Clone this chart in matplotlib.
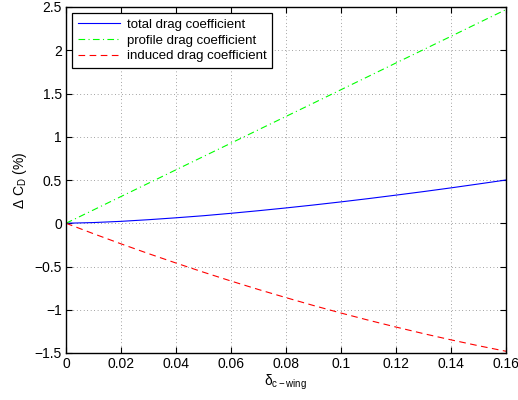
import matplotlib
matplotlib.use("Agg")
import matplotlib.pyplot as plt

# delta c-wing sample points
delta = [0.00, 0.01, 0.02, 0.03, 0.04, 0.05, 0.06, 0.07, 0.08,
         0.09, 0.10, 0.11, 0.12, 0.13, 0.14, 0.15, 0.16]
# Delta C_D (%)
total_cd   = [0.000, 0.008, 0.022, 0.041, 0.063, 0.087, 0.115, 0.145, 0.177,
              0.211, 0.247, 0.285, 0.325, 0.366, 0.409, 0.454, 0.500]
profile_cd = [0.000, 0.154, 0.309, 0.463, 0.618, 0.772, 0.926, 1.081, 1.235,
              1.389, 1.544, 1.698, 1.853, 2.007, 2.161, 2.316, 2.470]
induced_cd = [0.000, -0.121, -0.238, -0.351, -0.460, -0.566, -0.668, -0.766, -0.860,
              -0.951, -1.038, -1.121, -1.200, -1.276, -1.348, -1.416, -1.480]

xticks = [0, 0.02, 0.04, 0.06, 0.08, 0.1, 0.12, 0.14, 0.16]
yticks = [-1.5, -1, -0.5, 0, 0.5, 1, 1.5, 2, 2.5]

plt.rcParams["font.family"] = ["Liberation Sans", "DejaVu Sans"]
plt.rcParams["mathtext.fontset"] = "custom"
plt.rcParams["mathtext.rm"] = "Liberation Sans"
plt.rcParams["mathtext.it"] = "Liberation Sans"
plt.rcParams["mathtext.default"] = "regular"

fig = plt.figure(figsize=(5.18, 4.0), dpi=100)
ax = fig.add_axes([0.1274, 0.1175, 0.8494, 0.865])

ax.plot(delta, total_cd, color="#0000ff", linewidth=0.8, label="total drag coefficient")
ax.plot(delta, profile_cd, color="#00ff00", linewidth=0.8, linestyle="-.",
        dashes=(6, 3, 1, 3), label="profile drag coefficient")
ax.plot(delta, induced_cd, color="#ff0000", linewidth=0.8, linestyle="--",
        dashes=(6, 4), label="induced drag coefficient")

ax.set_xlim(0, 0.16)
ax.set_ylim(-1.5, 2.5)
ax.set_xticks(xticks)
ax.set_yticks(yticks)
ax.set_xticklabels(["0", "0.02", "0.04", "0.06", "0.08", "0.1", "0.12", "0.14", "0.16"])
ax.set_yticklabels(["\u22121.5", "\u22121", "\u22120.5", "0", "0.5", "1", "1.5", "2", "2.5"])
ax.tick_params(direction="in", top=True, right=True, labelsize=10, length=4, width=0.8, pad=3)
ax.grid(True, color="black", linestyle=(0, (1, 4)), linewidth=0.5, alpha=0.7)
for spine in ax.spines.values():
    spine.set_linewidth(1.0)
    spine.set_edgecolor("black")

ax.set_xlabel(r"$\delta_{c-wing}$", fontsize=10, labelpad=1)
ax.set_ylabel(r"$\Delta\ C_D$ (%)", fontsize=10, labelpad=4)

leg = ax.legend(loc="upper left", fontsize=9.5, handlelength=3.2, fancybox=False,
                framealpha=1, edgecolor="black", borderaxespad=0.45,
                labelspacing=0.25, borderpad=0.45, handletextpad=0.5)
leg.get_frame().set_linewidth(0.9)

fig.savefig("out.png", dpi=100)
